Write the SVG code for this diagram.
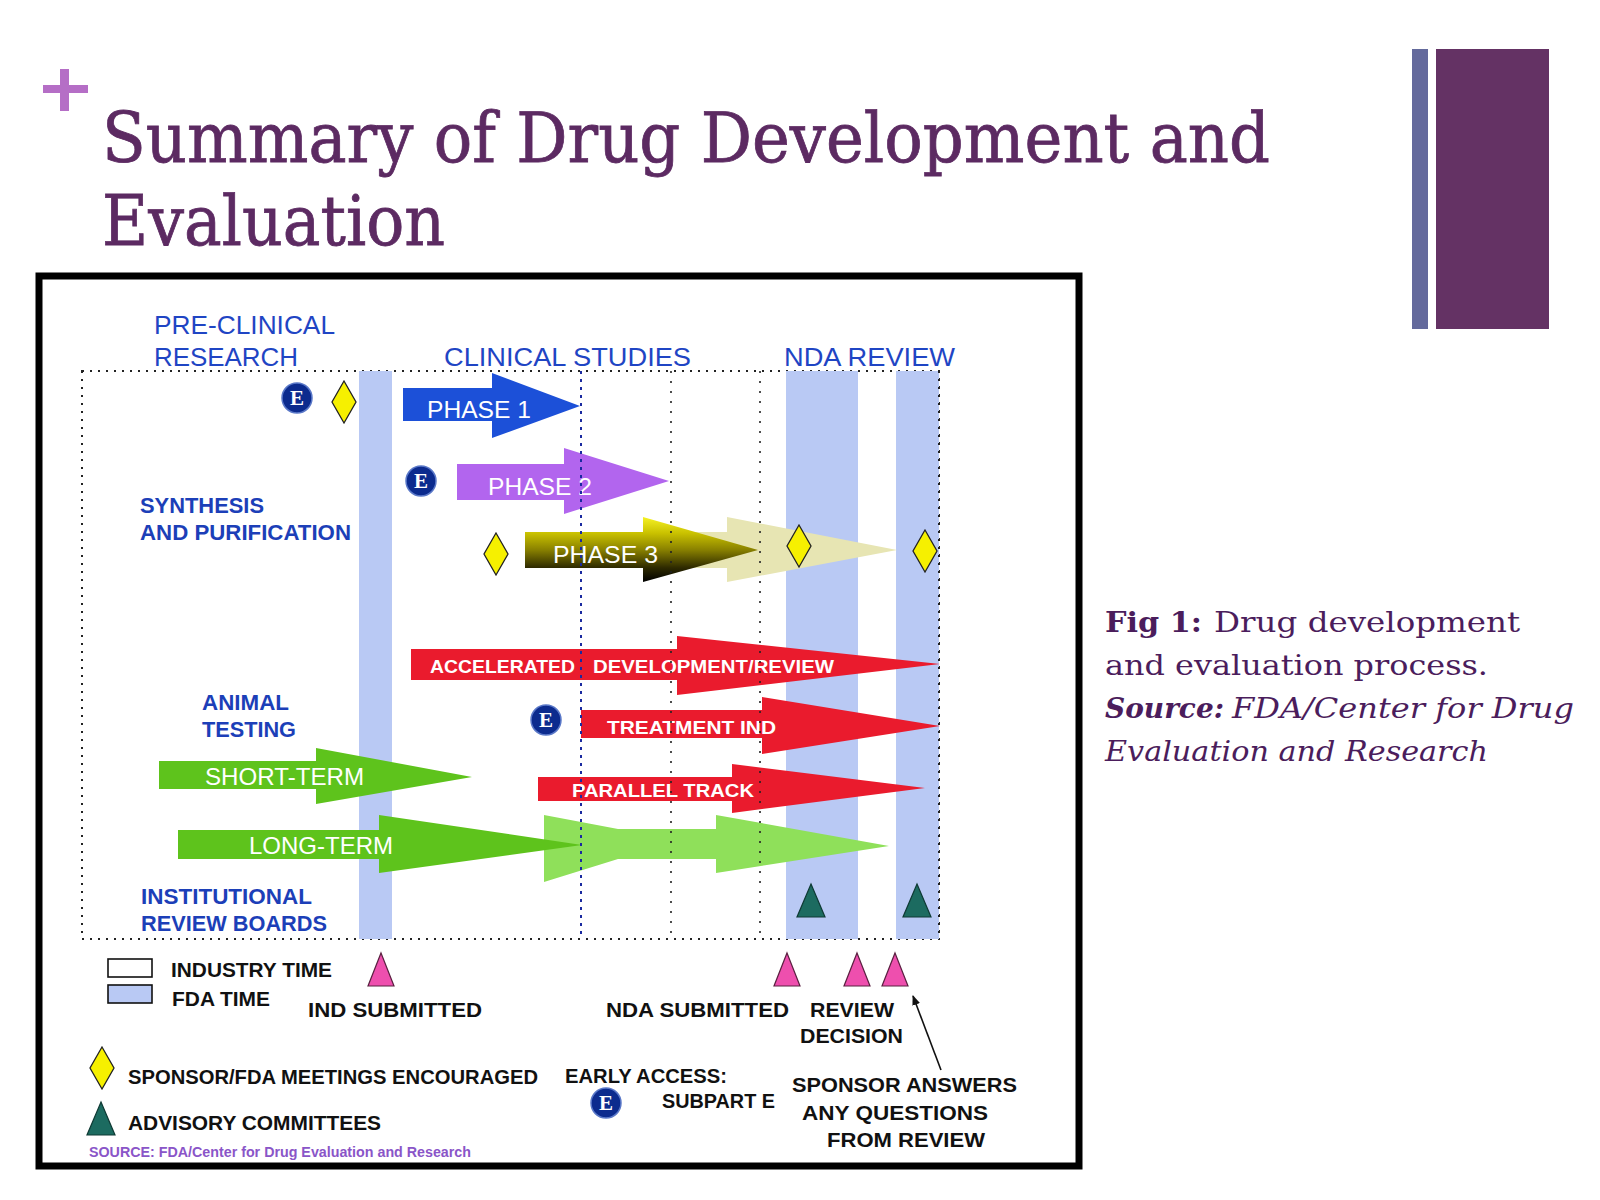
<svg xmlns="http://www.w3.org/2000/svg" xmlns:xlink="http://www.w3.org/1999/xlink" width="1600" height="1200" viewBox="0 0 1600 1200">
<defs>
<style>
.ttl{font-family:"DejaVu Serif","Liberation Serif",serif;fill:#5c2a62;stroke:#5c2a62;stroke-width:0.8;font-size:70px}
.cap{font-family:"DejaVu Serif","Liberation Serif",serif;fill:#4b1d5c;font-size:28px}
.hdr{font-family:"Liberation Sans",Arial,sans-serif;fill:#1f45c4;font-size:26px}
.sec{font-family:"Liberation Sans",Arial,sans-serif;fill:#1c3fb8;font-size:22px;font-weight:bold}
.lbl{font-family:"Liberation Sans",Arial,sans-serif;fill:#111;font-size:21px;font-weight:bold}
.al{font-family:"Liberation Sans",Arial,sans-serif;fill:#fff;font-size:24px}
.alb{font-family:"Liberation Sans",Arial,sans-serif;fill:#fff;font-size:19px;font-weight:bold}
.band{fill:#b9c9f4}
.dia{fill:#f6f000;stroke:#222;stroke-width:1.3}
.ptri{fill:#ee4fae;stroke:#5a2040;stroke-width:1.2}
.ttri{fill:#1c6b60;stroke:#0e3a34;stroke-width:1.2}
.red{fill:#ea1b2d}
.ecirc{fill:#0c2b8e;stroke:#5a78c8;stroke-width:1.5}
.etxt{font-family:"Liberation Serif","DejaVu Serif",serif;font-weight:bold;font-size:21px;fill:#fff;text-anchor:middle}
</style>
<linearGradient id="g3" x1="0" y1="0" x2="0" y2="1">
<stop offset="0" stop-color="#f6f224"/>
<stop offset="0.25" stop-color="#c9c100"/>
<stop offset="0.5" stop-color="#8a8200"/>
<stop offset="0.78" stop-color="#2e2a00"/>
<stop offset="1" stop-color="#000"/>
</linearGradient>
<path id="dia" d="M0,-21 L12,0 L0,21 L-12,0 Z"/>
<path id="ptri" d="M0,0 L13,33 L-13,33 Z"/>
<path id="ttri" d="M0,0 L14,33 L-14,33 Z"/>
<marker id="ah" markerWidth="10" markerHeight="10" refX="9" refY="5" orient="auto" markerUnits="userSpaceOnUse">
<path d="M0,1 L10,5 L0,9 Z" fill="#111"/>
</marker>
</defs>
<rect width="1600" height="1200" fill="#fff"/>

<g id="slide-decor">
<rect x="60" y="69" width="9" height="42" fill="#b56ec6"/>
<rect x="43" y="85" width="45" height="8" fill="#b56ec6"/>
<rect x="1412" y="49" width="16" height="280" fill="#646a9c"/>
<rect x="1436" y="49" width="113" height="280" fill="#643264"/>
</g>

<g id="title">
<text class="ttl" x="102" y="162" textLength="1168" lengthAdjust="spacingAndGlyphs">Summary of Drug Development and</text>
<text class="ttl" x="102" y="245" textLength="343" lengthAdjust="spacingAndGlyphs">Evaluation</text>
</g>

<g id="caption">
<text class="cap" x="1105" y="632" font-weight="bold" textLength="97" lengthAdjust="spacingAndGlyphs">Fig 1:</text>
<text class="cap" x="1214" y="632" textLength="306" lengthAdjust="spacingAndGlyphs">Drug development</text>
<text class="cap" x="1105" y="675" textLength="383" lengthAdjust="spacingAndGlyphs">and evaluation process.</text>
<text class="cap" x="1105" y="718" font-weight="bold" font-style="italic" textLength="119" lengthAdjust="spacingAndGlyphs">Source:</text>
<text class="cap" x="1232" y="718" font-style="italic" textLength="342" lengthAdjust="spacingAndGlyphs">FDA/Center for Drug</text>
<text class="cap" x="1105" y="761" font-style="italic" textLength="383" lengthAdjust="spacingAndGlyphs">Evaluation and Research</text>
</g>

<g id="frame">
<rect x="39" y="276" width="1040" height="890" fill="#fff" stroke="#000" stroke-width="7"/>
</g>

<g id="grid">
<rect x="82" y="371" width="857" height="568" fill="none" stroke="#222" stroke-width="2" stroke-dasharray="2 6"/>
</g>

<g id="fda-bands">
<rect class="band" x="359" y="371" width="33" height="568"/>
<rect class="band" x="786" y="371" width="72" height="568"/>
<rect class="band" x="896" y="371" width="43" height="568"/>
</g>

<g id="headers">
<text class="hdr" x="154" y="334" textLength="181" lengthAdjust="spacingAndGlyphs">PRE-CLINICAL</text>
<text class="hdr" x="154" y="366" textLength="144" lengthAdjust="spacingAndGlyphs">RESEARCH</text>
<text class="hdr" x="444" y="366" textLength="247" lengthAdjust="spacingAndGlyphs">CLINICAL STUDIES</text>
<text class="hdr" x="784" y="366" textLength="171" lengthAdjust="spacingAndGlyphs">NDA  REVIEW</text>
</g>

<g id="section-labels">
<text class="sec" x="140" y="513" textLength="124" lengthAdjust="spacingAndGlyphs">SYNTHESIS</text>
<text class="sec" x="140" y="540" textLength="211" lengthAdjust="spacingAndGlyphs">AND PURIFICATION</text>
<text class="sec" x="202" y="710" textLength="87" lengthAdjust="spacingAndGlyphs">ANIMAL</text>
<text class="sec" x="202" y="737" textLength="94" lengthAdjust="spacingAndGlyphs">TESTING</text>
<text class="sec" x="141" y="904" textLength="171" lengthAdjust="spacingAndGlyphs">INSTITUTIONAL</text>
<text class="sec" x="141" y="931" textLength="186" lengthAdjust="spacingAndGlyphs">REVIEW BOARDS</text>
</g>

<g id="phase3-extended">
<polygon points="640,532 727,532 727,517 897,550 727,582 727,568 640,568" fill="#e7e5b3"/>
</g>

<g id="phase1">
<polygon points="403,388 492,388 492,373 580,406 492,438 492,421 403,421" fill="#1c50d8"/>
<text class="al" x="427" y="418" textLength="104" lengthAdjust="spacingAndGlyphs">PHASE 1</text>
</g>

<g id="phase2">
<polygon points="457,464 564,464 564,448 669,481 564,514 564,500 457,500" fill="#b265ee"/>
<text class="al" x="488" y="495" textLength="104" lengthAdjust="spacingAndGlyphs" fill="#f4e8ff">PHASE 2</text>
</g>

<g id="phase3">
<polygon points="525,532 643,532 643,517 758,550 643,582 643,568 525,568" fill="url(#g3)"/>
<text class="al" x="553" y="563" textLength="105" lengthAdjust="spacingAndGlyphs">PHASE 3</text>
</g>

<g id="accelerated">
<polygon class="red" points="411,649 677,649 677,636 940,664 677,695 677,680 411,680"/>
<text class="alb" y="673"><tspan x="430" textLength="145" lengthAdjust="spacingAndGlyphs">ACCELERATED</tspan><tspan x="593" textLength="241" lengthAdjust="spacingAndGlyphs">DEVELOPMENT/REVIEW</tspan></text>
</g>

<g id="treatment-ind">
<polygon class="red" points="581,710 762,710 762,697 940,726 762,754 762,738 581,738"/>
<text class="alb" x="607" y="734" textLength="169" lengthAdjust="spacingAndGlyphs">TREATMENT IND</text>
</g>

<g id="parallel-track">
<polygon class="red" points="538,777 732,777 732,764 925,788 732,813 732,801 538,801"/>
<text class="alb" x="572" y="797" textLength="182" lengthAdjust="spacingAndGlyphs">PARALLEL TRACK</text>
</g>

<g id="long-term-extended">
<polygon points="544,815 618,829 716,829 716,815 889,846 716,873 716,859 618,859 544,882" fill="#8fe05a"/>
</g>

<g id="short-term">
<polygon points="159,761 316,761 316,748 472,777 316,804 316,789 159,789" fill="#5ec31c"/>
<text class="al" x="205" y="785" textLength="159" lengthAdjust="spacingAndGlyphs">SHORT-TERM</text>
</g>

<g id="long-term">
<polygon points="178,830 379,830 379,815 582,845 379,873 379,859 178,859" fill="#5ec31c"/>
<text class="al" x="249" y="854" textLength="144" lengthAdjust="spacingAndGlyphs">LONG-TERM</text>
</g>

<g id="connectors">
<line x1="581" y1="371" x2="581" y2="939" stroke="#1a2aa0" stroke-width="2" stroke-dasharray="3 5"/>
<line x1="671" y1="371" x2="671" y2="939" stroke="#222" stroke-width="1.6" stroke-dasharray="2 8"/>
<line x1="760" y1="371" x2="760" y2="939" stroke="#222" stroke-width="1.6" stroke-dasharray="2 8"/>
<line x1="939" y1="371" x2="939" y2="939" stroke="#222" stroke-width="2" stroke-dasharray="2 6"/>
<line x1="941" y1="1070" x2="913" y2="996" stroke="#111" stroke-width="1.6" marker-end="url(#ah)"/>
</g>

<g id="meetings">
<use xlink:href="#dia" class="dia" x="344" y="402"/>
<use xlink:href="#dia" class="dia" x="496" y="554"/>
<use xlink:href="#dia" class="dia" x="799" y="546"/>
<use xlink:href="#dia" class="dia" x="925" y="551"/>
</g>

<g id="early-access">
<circle class="ecirc" cx="297" cy="398" r="15"/><text class="etxt" x="297" y="405">E</text>
<circle class="ecirc" cx="421" cy="481" r="15"/><text class="etxt" x="421" y="488">E</text>
<circle class="ecirc" cx="546" cy="720" r="15"/><text class="etxt" x="546" y="727">E</text>
</g>

<g id="advisory">
<use xlink:href="#ttri" class="ttri" x="811" y="884"/>
<use xlink:href="#ttri" class="ttri" x="917" y="884"/>
</g>

<g id="milestones">
<use xlink:href="#ptri" class="ptri" x="381" y="953"/>
<use xlink:href="#ptri" class="ptri" x="787" y="953"/>
<use xlink:href="#ptri" class="ptri" x="857" y="953"/>
<use xlink:href="#ptri" class="ptri" x="895" y="953"/>
<text class="lbl" x="308" y="1017" font-size="22" textLength="174" lengthAdjust="spacingAndGlyphs">IND SUBMITTED</text>
<text class="lbl" x="606" y="1017" textLength="183" lengthAdjust="spacingAndGlyphs">NDA SUBMITTED</text>
<text class="lbl" x="810" y="1017" textLength="84" lengthAdjust="spacingAndGlyphs">REVIEW</text>
<text class="lbl" x="800" y="1043" textLength="103" lengthAdjust="spacingAndGlyphs">DECISION</text>
<text class="lbl" x="792" y="1092" textLength="225" lengthAdjust="spacingAndGlyphs">SPONSOR ANSWERS</text>
<text class="lbl" x="802" y="1120" textLength="186" lengthAdjust="spacingAndGlyphs">ANY QUESTIONS</text>
<text class="lbl" x="827" y="1147" textLength="158" lengthAdjust="spacingAndGlyphs">FROM REVIEW</text>
</g>

<g id="legend">
<rect x="108" y="959" width="44" height="18" fill="#fff" stroke="#111" stroke-width="1.6"/>
<rect x="108" y="985" width="44" height="18" fill="#b9c9f4" stroke="#111" stroke-width="1.6"/>
<text class="lbl" x="171" y="977" textLength="161" lengthAdjust="spacingAndGlyphs">INDUSTRY TIME</text>
<text class="lbl" x="172" y="1006" textLength="98" lengthAdjust="spacingAndGlyphs">FDA TIME</text>
<use xlink:href="#dia" class="dia" x="102" y="1068"/>
<text class="lbl" x="128" y="1084" font-size="20" textLength="410" lengthAdjust="spacingAndGlyphs">SPONSOR/FDA MEETINGS ENCOURAGED</text>
<use xlink:href="#ttri" class="ttri" x="101" y="1102"/>
<text class="lbl" x="128" y="1130" font-size="20" textLength="253" lengthAdjust="spacingAndGlyphs">ADVISORY COMMITTEES</text>
<text class="lbl" x="565" y="1083" font-size="20" textLength="162" lengthAdjust="spacingAndGlyphs">EARLY ACCESS:</text>
<circle class="ecirc" cx="606" cy="1103" r="15"/><text class="etxt" x="606" y="1110">E</text>
<text class="lbl" x="662" y="1108" font-size="20" textLength="113" lengthAdjust="spacingAndGlyphs">SUBPART E</text>
<text x="89" y="1157" font-family="Liberation Sans,Arial,sans-serif" font-weight="bold" font-size="14" fill="#8a55c8" textLength="382" lengthAdjust="spacingAndGlyphs">SOURCE: FDA/Center for Drug Evaluation and Research</text>
</g>
</svg>
